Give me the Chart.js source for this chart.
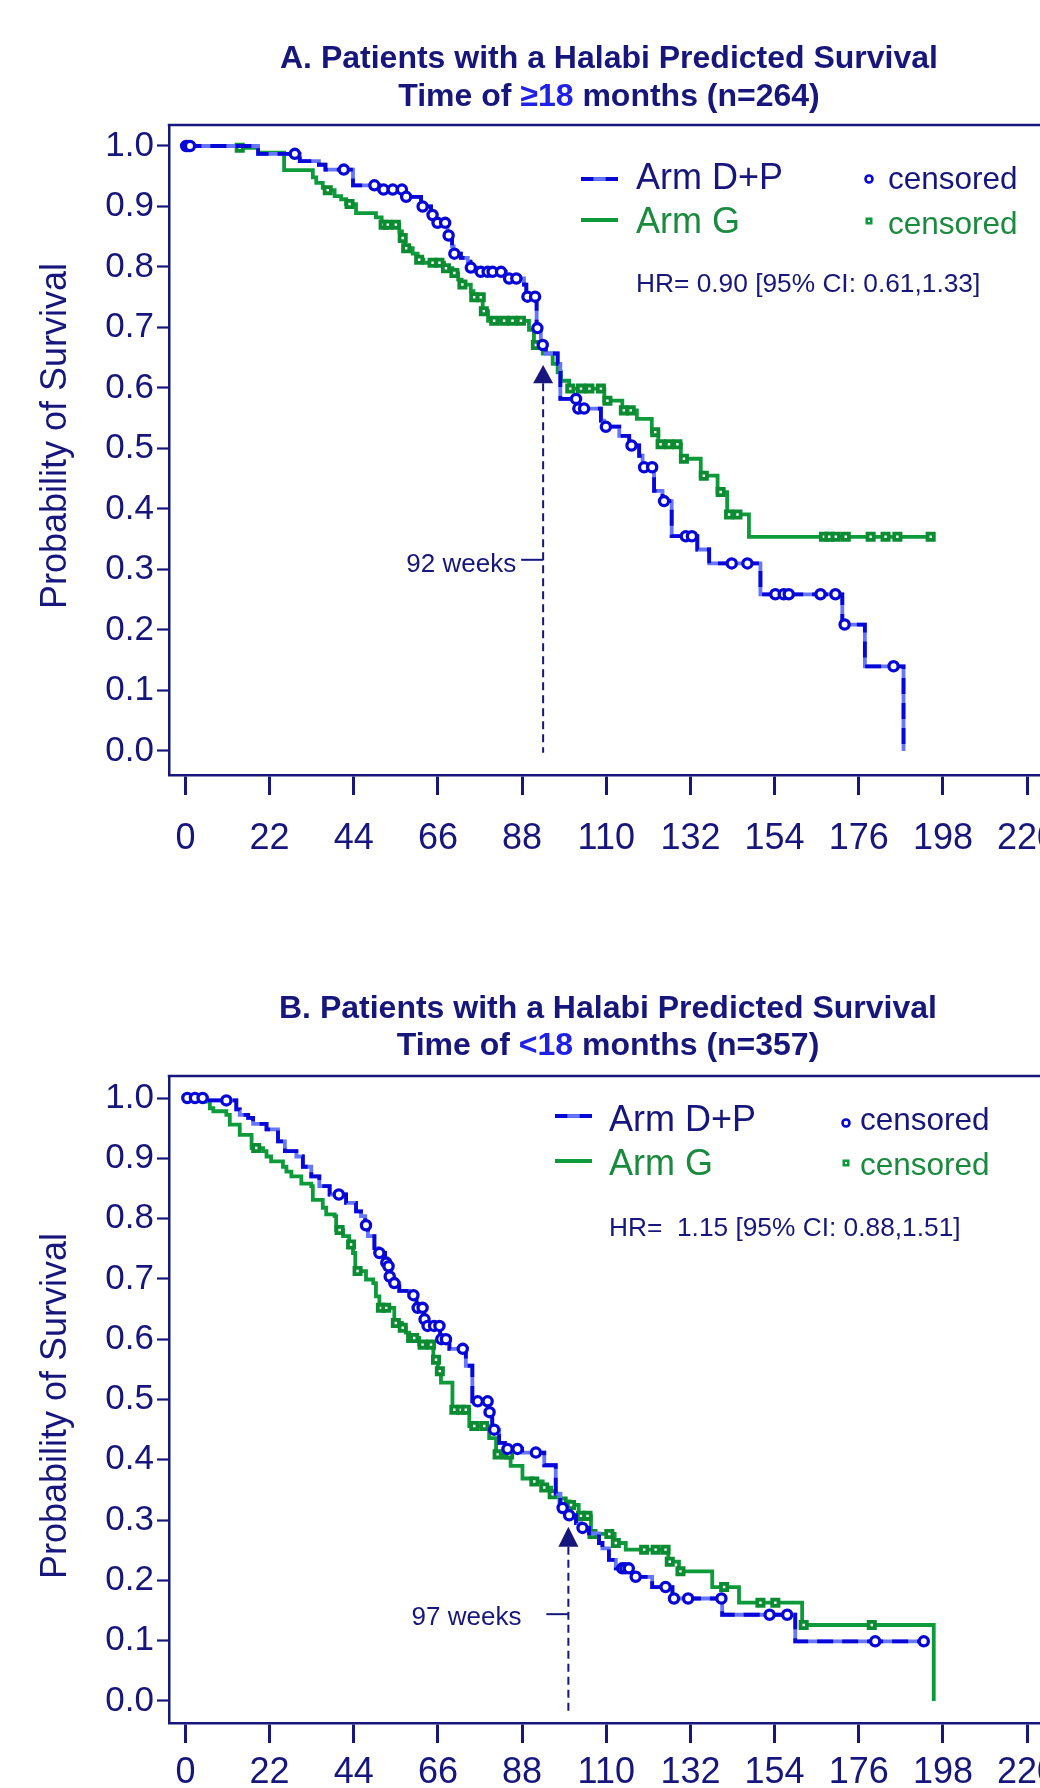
<!DOCTYPE html>
<html>
<head>
<meta charset="utf-8">
<title>Halabi predicted survival</title>
<script src="https://cdn.jsdelivr.net/npm/chart.js@4.4.1/dist/chart.umd.min.js"></script>
<style>
  html, body { margin: 0; padding: 0; background: #fff; }
  body { width: 1040px; height: 1788px; overflow: hidden; position: relative; }
  canvas { position: absolute; left: 0; }
</style>
</head>
<body>
<canvas id="panelA" width="1120" height="894" style="top:0px"></canvas>
<canvas id="panelB" width="1120" height="894" style="top:894px"></canvas>
<script>
// axis ticks
const weekTicks = [0, 22, 44, 66, 88, 110, 132, 154, 176, 198, 220]
const probTicks = [0, 0.1, 0.2, 0.3, 0.4, 0.5, 0.6, 0.7, 0.8, 0.9, 1.0]

// Panel A (>=18 months) - KM steps: time (weeks) and survival after each drop
const aDpTimes = [0, 19, 29.9, 34.9, 36.6, 43.8, 50.7, 57.2, 61.6, 64.2, 65.5, 68.5, 69.7, 70.1, 72, 73.8, 74.5, 75.9, 83.8, 88.5, 89.1, 91.8, 92.9, 94.2, 97.3, 98, 102.3, 108.6, 109.4, 113.4, 116, 118.6, 119.5, 122.5, 124.7, 127.1, 133.8, 136.9, 150.3, 171.7, 177.6, 187.7]
const aDpSurv = [1, 0.987, 0.975, 0.969, 0.961, 0.935, 0.928, 0.916, 0.9, 0.886, 0.873, 0.852, 0.834, 0.822, 0.815, 0.809, 0.799, 0.792, 0.781, 0.771, 0.751, 0.699, 0.671, 0.657, 0.64, 0.582, 0.566, 0.546, 0.536, 0.521, 0.505, 0.488, 0.469, 0.43, 0.413, 0.355, 0.333, 0.31, 0.259, 0.209, 0.14, 0]
const aDpCensored = [0.2, 0.7, 1.2, 28.6, 41.4, 49.4, 51.8, 54.2, 56.6, 57.7, 62, 64.6, 65.9, 67.9, 68.8, 70.3, 74.6, 77.2, 79, 80.3, 82.5, 84.6, 86.5, 89.4, 91.4, 92, 93.4, 102.1, 102.7, 104.2, 109.9, 116.6, 119.9, 122, 125.1, 130.8, 132.4, 142.8, 146.9, 154.2, 156.4, 157.7, 166, 169.9, 172.3, 185.1]
const aGTimes = [0, 14.2, 19, 25.8, 33.3, 34.2, 35.9, 36.8, 39, 40.7, 42, 44.6, 49.8, 51.3, 55.9, 56.6, 57.4, 59.4, 60.7, 62.2, 67.6, 69.8, 71.3, 72.2, 74.6, 75.3, 77.7, 79.1, 89.8, 91.1, 93.4, 96, 97.3, 98.2, 100.3, 109.5, 114.2, 118, 121.9, 123.6, 129.5, 134.7, 139.1, 141.6, 147.3, 194.8]
const aGSurv = [1, 0.997, 0.989, 0.96, 0.948, 0.939, 0.931, 0.927, 0.917, 0.912, 0.904, 0.889, 0.882, 0.87, 0.859, 0.848, 0.831, 0.822, 0.812, 0.807, 0.798, 0.79, 0.779, 0.771, 0.76, 0.75, 0.727, 0.711, 0.696, 0.671, 0.657, 0.64, 0.626, 0.612, 0.599, 0.579, 0.563, 0.549, 0.527, 0.507, 0.483, 0.455, 0.428, 0.391, 0.354, 0.354]
const aGCensored = [14.2, 37.2, 42.9, 51.8, 52.9, 55, 56.8, 57.7, 61.1, 64.6, 66.4, 68.1, 70.3, 72.4, 75.5, 77.2, 78, 80.7, 83.3, 85.5, 87.7, 91.6, 100.6, 103.4, 105.6, 108.6, 110.3, 114.6, 116.4, 122.8, 124.2, 126.4, 128.6, 130.3, 135.5, 139.9, 142.1, 144.3, 166.9, 168.3, 170, 172.6, 179.1, 183, 186.1, 194.8]

// Panel B (<18 months)
const bDpTimes = [0, 5.5, 13.3, 14.2, 16.4, 17.7, 21.2, 24.2, 26, 29, 30.7, 32.9, 35, 37.7, 42, 44.6, 45.9, 47, 47.7, 49.4, 50.5, 52.2, 53, 53.2, 54.3, 55.9, 58.5, 60.4, 62.3, 63, 66.6, 69, 73.3, 75, 79.2, 80.2, 82, 83.5, 88, 93.8, 96.8, 98, 99.8, 102.1, 103.4, 105.5, 108.1, 109, 110.7, 112.5, 116.7, 122, 127.3, 140.3, 159.4, 193]
const bDpSurv = [1, 0.996, 0.981, 0.972, 0.967, 0.957, 0.948, 0.928, 0.912, 0.903, 0.886, 0.87, 0.854, 0.84, 0.826, 0.812, 0.804, 0.789, 0.771, 0.751, 0.743, 0.727, 0.721, 0.704, 0.693, 0.68, 0.673, 0.652, 0.633, 0.622, 0.6, 0.584, 0.556, 0.497, 0.479, 0.45, 0.428, 0.418, 0.412, 0.391, 0.344, 0.32, 0.308, 0.295, 0.287, 0.278, 0.262, 0.253, 0.234, 0.22, 0.206, 0.189, 0.17, 0.143, 0.099, 0.099]
const bDpCensored = [0.5, 2.5, 4.5, 10.7, 40.1, 47.2, 50.7, 52.5, 53.1, 53.4, 54.6, 59.6, 60.7, 62, 62.5, 63.3, 65, 66.4, 66.9, 68.1, 72.5, 76.4, 79, 79.5, 80.7, 84.2, 86.8, 91.6, 98.6, 100.3, 103.8, 114.2, 115, 115.9, 117.7, 125.5, 127.7, 131.4, 140.1, 152.7, 157.3, 180.3, 193]
const bGTimes = [0, 5.1, 6.4, 7.3, 10.7, 11.6, 14.2, 17.3, 20.3, 21.2, 22.4, 25.5, 26.4, 27.7, 30.3, 32.9, 33.3, 35.9, 36.8, 39, 39.4, 41.2, 42.8, 43.8, 44.4, 47.2, 49.1, 49.8, 50.7, 54.6, 56.6, 57.6, 58.5, 61.1, 64.8, 66, 66.8, 69.8, 74.2, 79.4, 81.2, 85, 88.1, 90.8, 93.4, 95.6, 98, 100.4, 102.8, 106, 112.2, 115.1, 126.2, 129, 137.7, 144.7, 161.2, 195.6]
const bGSurv = [1, 0.994, 0.983, 0.978, 0.972, 0.956, 0.939, 0.917, 0.912, 0.903, 0.895, 0.886, 0.878, 0.87, 0.858, 0.854, 0.831, 0.818, 0.807, 0.804, 0.781, 0.771, 0.757, 0.743, 0.713, 0.699, 0.693, 0.671, 0.652, 0.627, 0.619, 0.611, 0.602, 0.591, 0.566, 0.547, 0.528, 0.483, 0.456, 0.436, 0.409, 0.39, 0.369, 0.364, 0.354, 0.343, 0.331, 0.325, 0.307, 0.277, 0.262, 0.251, 0.231, 0.215, 0.189, 0.163, 0.126, 0]
const bGCensored = [2.9, 18.5, 40.3, 43.3, 45, 51.1, 52.5, 55, 56.8, 59, 59.8, 62, 64.2, 65.5, 66.5, 70.3, 72, 73.3, 75.5, 78.1, 81.6, 83.8, 84.6, 91.2, 93.8, 96, 98.6, 100.8, 103.4, 105.1, 106.4, 110.8, 112.5, 119.9, 122.9, 125.5, 126.6, 129.4, 140.8, 150.3, 154.2, 161.6, 179.4]

const FONT = '"Liberation Sans", Arial, Helvetica, sans-serif'
const NAVY = '#16167c'
const BLUE = '#0707d8'
const LIGHTBLUE = '#6676ff'
const GREEN = '#0d9a3a'
const GREENTXT = '#1a8a3e'
const TITLEBLUE = '#2020e6'

Chart.defaults.font.family = FONT

function stepPoints(times, surv) {
  return times.map((t, i) => ({x: t, y: surv[i]}))
}

// survival value of the step curve at time t (where a censor mark sits)
function survAt(times, surv, t) {
  let s = surv[0]
  for (let i = 0; i < times.length; i++) {
    if (times[i] <= t) s = surv[i]
  }
  return s
}

function censPoints(times, surv, cens) {
  return cens.map(t => ({x: t, y: survAt(times, surv, t)}))
}

function textRuns(ctx, runs, cx, y) {
  const w = runs.reduce((s, r) => s + ctx.measureText(r[0]).width, 0)
  let xx = cx - w / 2
  ctx.textAlign = 'left'
  for (const [txt, col] of runs) {
    ctx.fillStyle = col
    ctx.fillText(txt, xx, y)
    xx += ctx.measureText(txt).width
  }
}

function decorFor(p) {
  return {
    id: 'decor',
    afterDraw(chart) {
      const {ctx, chartArea: ca} = chart
      const xs = chart.scales.x, ys = chart.scales.y
      ctx.save()

      // top edge of the frame
      ctx.strokeStyle = NAVY
      ctx.lineWidth = 2.5
      ctx.beginPath()
      ctx.moveTo(ca.left - 1.25, ca.top)
      ctx.lineTo(chart.width, ca.top)
      ctx.stroke()

      // title
      ctx.textBaseline = 'alphabetic'
      ctx.font = 'bold 32px ' + FONT
      textRuns(ctx, [[p.title1, NAVY]], p.titleX, p.title1Y)
      textRuns(ctx, p.title2, p.titleX, p.title2Y)

      // y axis title
      ctx.save()
      ctx.translate(p.yTitleX, p.yTitleY)
      ctx.rotate(-Math.PI / 2)
      ctx.font = '36px ' + FONT
      ctx.textAlign = 'center'
      ctx.textBaseline = 'middle'
      ctx.fillStyle = NAVY
      ctx.fillText('Probability of Survival', 0, 0)
      ctx.restore()

      // legend
      const L = p.legend
      ctx.lineWidth = 3.8
      ctx.strokeStyle = BLUE
      ctx.beginPath(); ctx.moveTo(L.x0, L.y1); ctx.lineTo(L.x1, L.y1); ctx.stroke()
      const third = (L.x1 - L.x0) / 3
      ctx.strokeStyle = LIGHTBLUE
      ctx.beginPath(); ctx.moveTo(L.x0 + third, L.y1); ctx.lineTo(L.x0 + 2 * third, L.y1); ctx.stroke()
      ctx.strokeStyle = GREEN
      ctx.beginPath(); ctx.moveTo(L.x0, L.y2); ctx.lineTo(L.x1, L.y2); ctx.stroke()

      ctx.textAlign = 'left'
      ctx.textBaseline = 'alphabetic'
      ctx.font = '36px ' + FONT
      ctx.fillStyle = NAVY
      ctx.fillText('Arm D+P', L.tx, L.t1)
      ctx.fillStyle = GREENTXT
      ctx.fillText('Arm G', L.tx, L.t2)

      ctx.strokeStyle = BLUE
      ctx.lineWidth = 2.6
      ctx.beginPath(); ctx.arc(L.mx, L.my1, 3.5, 0, Math.PI * 2); ctx.stroke()
      ctx.fillStyle = GREEN
      ctx.fillRect(L.mx - 3.5, L.my2 - 3.5, 7, 7)
      ctx.fillStyle = '#fff'
      ctx.fillRect(L.mx - 1, L.my2 - 1, 2, 2)

      ctx.font = '31.5px ' + FONT
      ctx.fillStyle = NAVY
      ctx.fillText('censored', L.cx, L.c1)
      ctx.fillStyle = GREENTXT
      ctx.fillText('censored', L.cx, L.c2)

      ctx.font = '26.3px ' + FONT
      ctx.fillStyle = NAVY
      ctx.fillText(p.hr, L.tx, L.hrY)

      // median marker: arrow, dashed drop line and label
      const a = p.mark
      const mx = xs.getPixelForValue(a.week)
      const apex = ys.getPixelForValue(a.apex)
      const base = ys.getPixelForValue(a.base)
      const end = ys.getPixelForValue(a.end)
      ctx.fillStyle = NAVY
      ctx.beginPath()
      ctx.moveTo(mx, apex); ctx.lineTo(mx - 10, base); ctx.lineTo(mx + 10, base)
      ctx.closePath(); ctx.fill()
      ctx.strokeStyle = NAVY
      ctx.lineWidth = 2
      ctx.setLineDash([8, 5])
      ctx.beginPath(); ctx.moveTo(mx, base); ctx.lineTo(mx, end); ctx.stroke()
      ctx.setLineDash([])
      const ty = ys.getPixelForValue(a.tick)
      ctx.beginPath(); ctx.moveTo(mx - 22, ty); ctx.lineTo(mx, ty); ctx.stroke()
      ctx.font = '26px ' + FONT
      ctx.textAlign = 'right'
      ctx.fillText(a.label, mx - a.gap, ys.getPixelForValue(a.text))

      ctx.restore()
    }
  }
}

function makeChart(id, p) {
  const dpLine = stepPoints(p.dpT, p.dpS)
  const gLine = stepPoints(p.gT, p.gS)
  return new Chart(document.getElementById(id), {
    type: 'line',
    data: {
      datasets: [
        {
          label: 'Arm D+P censored',
          data: censPoints(p.dpT, p.dpS, p.dpC),
          showLine: false,
          pointStyle: 'circle',
          pointRadius: 4.6,
          pointBorderWidth: 3.3,
          pointBorderColor: BLUE,
          pointBackgroundColor: '#fff',
          order: 0
        },
        {
          label: 'Arm D+P',
          data: dpLine,
          stepped: 'before',
          borderColor: BLUE,
          borderWidth: 3.8,
          borderDash: [16, 9],
          pointRadius: 0,
          order: 1
        },
        {
          label: 'Arm D+P (under)',
          data: dpLine,
          stepped: 'before',
          borderColor: LIGHTBLUE,
          borderWidth: 3.8,
          pointRadius: 0,
          order: 2
        },
        {
          label: 'Arm G censored',
          data: censPoints(p.gT, p.gS, p.gC),
          showLine: false,
          pointStyle: 'rect',
          pointRadius: 4.4,
          pointBorderWidth: 3.8,
          pointBorderColor: '#0b8c33',
          pointBackgroundColor: '#fff',
          order: 3
        },
        {
          label: 'Arm G',
          data: gLine,
          stepped: 'before',
          borderColor: GREEN,
          borderWidth: 3.8,
          pointRadius: 0,
          order: 4
        }
      ]
    },
    options: {
      responsive: false,
      animation: false,
      devicePixelRatio: 1,
      layout: { padding: { top: p.padTop, right: 47, left: 0, bottom: 0 } },
      plugins: { legend: { display: false }, tooltip: { enabled: false } },
      scales: {
        x: {
          type: 'linear',
          min: -4.29,
          max: 232,
          afterBuildTicks: s => { s.ticks = weekTicks.map(v => ({value: v})) },
          afterFit: s => { s.height = p.xAxisH },
          border: { display: true, color: NAVY, width: 2.5 },
          grid: { drawOnChartArea: false, drawTicks: true, tickLength: 20, tickWidth: 3, tickColor: NAVY },
          ticks: {
            color: NAVY,
            font: { size: 36 },
            padding: p.xPad,
            maxRotation: 0,
            autoSkip: false,
            callback: v => String(v)
          }
        },
        y: {
          type: 'linear',
          min: p.yMin,
          max: p.yMax,
          afterBuildTicks: s => { s.ticks = probTicks.map(v => ({value: v})) },
          afterFit: s => { s.width = 169 },
          border: { display: true, color: NAVY, width: 2.5 },
          grid: { drawOnChartArea: false, drawTicks: true, tickLength: 12, tickWidth: 2.2, tickColor: NAVY },
          ticks: {
            color: NAVY,
            font: { size: 35 },
            padding: 3,
            callback: v => v.toFixed(1)
          }
        }
      }
    },
    plugins: [decorFor(p)]
  })
}

makeChart('panelA', {
  dpT: aDpTimes, dpS: aDpSurv, dpC: aDpCensored,
  gT: aGTimes, gS: aGSurv, gC: aGCensored,
  padTop: 125, xAxisH: 119, xPad: 22, yMin: -0.0397, yMax: 1.0347,
  title1: 'A. Patients with a Halabi Predicted Survival',
  title2: [['Time of ', NAVY], ['\u226518', TITLEBLUE], [' months (n=264)', NAVY]],
  titleX: 609, title1Y: 68, title2Y: 106,
  yTitleX: 56, yTitleY: 436,
  hr: 'HR= 0.90 [95% CI: 0.61,1.33]',
  legend: { x0: 581, x1: 618, y1: 179, y2: 220, tx: 636, t1: 189, t2: 233,
            mx: 869, my1: 179, my2: 221, cx: 888, c1: 189, c2: 234, hrY: 292 },
  mark: { week: 93.5, label: '92 weeks', apex: 0.638, base: 0.608, end: -0.003, tick: 0.316, text: 0.296, gap: 27 }
})

makeChart('panelB', {
  dpT: bDpTimes, dpS: bDpSurv, dpC: bDpCensored,
  gT: bGTimes, gS: bGSurv, gC: bGCensored,
  padTop: 182, xAxisH: 65, xPad: 8, yMin: -0.0365, yMax: 1.0365,
  title1: 'B. Patients with a Halabi Predicted Survival',
  title2: [['Time of ', NAVY], ['<18', TITLEBLUE], [' months (n=357)', NAVY]],
  titleX: 608, title1Y: 124, title2Y: 161,
  yTitleX: 56, yTitleY: 512,
  hr: 'HR=  1.15 [95% CI: 0.88,1.51]',
  legend: { x0: 555, x1: 592, y1: 222, y2: 267, tx: 609, t1: 237, t2: 281,
            mx: 846, my1: 229, my2: 269, cx: 860, c1: 236, c2: 281, hrY: 342 },
  mark: { week: 100.1, label: '97 weeks', apex: 0.289, base: 0.256, end: -0.023, tick: 0.144, text: 0.126, gap: 47 }
})
</script>
</body>
</html>
